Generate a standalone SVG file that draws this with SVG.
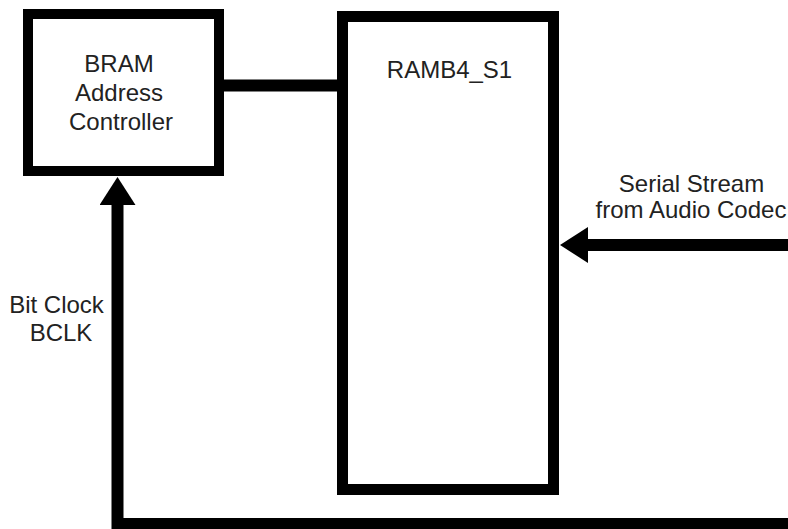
<svg xmlns="http://www.w3.org/2000/svg" width="788" height="529" viewBox="0 0 788 529">
  <style>
    .box { fill: #ffffff; stroke: #000000; }
    .wire { fill: none; stroke: #000000; stroke-width: 12; }
    .lbl { font-family: "Liberation Sans", Arial, sans-serif; font-size: 24px; fill: #222222; }
  </style>
  <defs>
    <marker id="arrow" viewBox="0 0 28 36" refX="1" refY="18" markerWidth="28" markerHeight="36" markerUnits="userSpaceOnUse" orient="auto">
      <path d="M0,0 L28,18 L0,36 Z" fill="#000000"/>
    </marker>
  </defs>
  <rect x="0" y="0" width="788" height="529" fill="#ffffff"/>

  <g id="connectors">
    <line class="wire" x1="224" y1="85.5" x2="338" y2="85.5"/>
    <path class="wire" d="M 790 524 H 117.5 V 204" marker-end="url(#arrow)"/>
    <line class="wire" x1="790" y1="245" x2="587" y2="245" marker-end="url(#arrow)"/>
  </g>

  <g id="bram-address-controller">
    <rect class="box" x="28" y="14" width="191" height="157" stroke-width="10"/>
    <text class="lbl" x="119" y="72" text-anchor="middle">BRAM</text>
    <text class="lbl" x="119" y="101" text-anchor="middle">Address</text>
    <text class="lbl" x="121" y="130" text-anchor="middle">Controller</text>
  </g>

  <g id="ramb4-s1">
    <rect class="box" x="342.5" y="16.5" width="211" height="473" stroke-width="11"/>
    <text class="lbl" x="449.5" y="78" text-anchor="middle">RAMB4_S1</text>
  </g>

  <g id="serial-label">
    <text class="lbl" x="691.5" y="192" text-anchor="middle">Serial Stream</text>
    <text class="lbl" x="691" y="218" text-anchor="middle">from Audio Codec</text>
  </g>

  <g id="bclk-label">
    <text class="lbl" x="56.5" y="313" text-anchor="middle">Bit Clock</text>
    <text class="lbl" x="61" y="341" text-anchor="middle">BCLK</text>
  </g>
</svg>
